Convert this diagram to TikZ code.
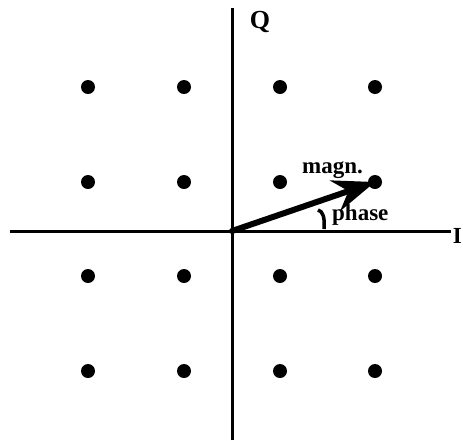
\documentclass[tikz,border=0pt]{standalone}
\usepackage{fontspec}
\setmainfont{Liberation Serif}
\usepackage{tikz}
\usetikzlibrary{arrows.meta, positioning}
\tikzset{
  >=Latex,
  dot/.style={circle, fill=black, inner sep=0pt, minimum size=14pt},
  axis/.style={line width=3pt},
  vec/.style={-{Stealth[length=42pt,width=32pt,inset=14pt]}, line width=6pt, line cap=round},
  lab/.style={font=\fontsize{23}{27}\selectfont\bfseries, inner sep=0pt}
}

\begin{document}
\begin{tikzpicture}[x=1pt,y=-1pt]
  \useasboundingbox (0,0) rectangle (463,440);
  % axes
  \coordinate (o) at (232,231);
  \coordinate (qtop) at (232,8);
  \coordinate (qbot) at (232,440);
  \coordinate (ileft) at (10,231);
  \coordinate (iright) at (451,231);
  \draw[axis] (qbot) -- (qtop);
  \draw[axis] (ileft) -- (iright);
  \node[lab,anchor=base,font=\fontsize{26}{30}\selectfont\bfseries] (q) at (260,28) {Q};
  \node[lab,anchor=base east] (i) at (462,243) {I};
  % constellation
  \foreach \x [count=\i] in {88,184,280,375} {
    \foreach \y [count=\j] in {87,182,276,371} {
      \node[dot] (d-\i-\j) at (\x,\y) {};
    }
  }
  \draw[vec] (o) -- (d-4-2.center);
  % phase mark
  \coordinate (ph1) at (318,210);
  \coordinate (ph2) at (324,229);
  \draw[line width=3.5pt] (ph1) .. controls (323,211) and (325,218) .. (ph2);
  \node[lab,anchor=base west] (magn) at (302,173) {magn.};
  \node[lab,anchor=base west] (phase) at (332,220) {phase};
\end{tikzpicture}
\end{document}
